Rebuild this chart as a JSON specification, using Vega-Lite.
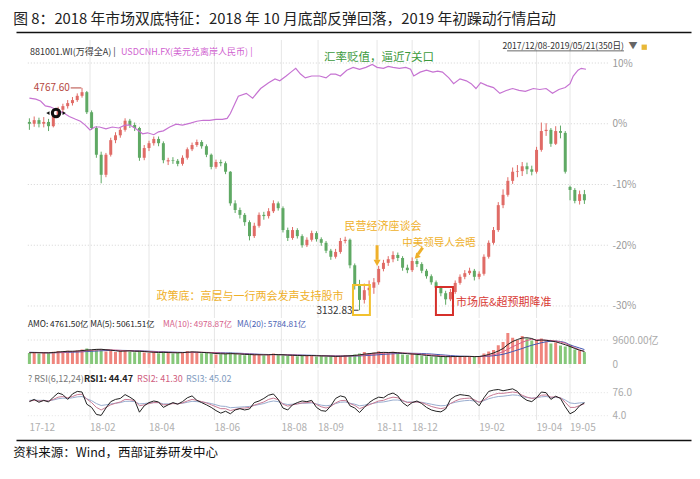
{
"$schema":"https://vega.github.io/schema/vega-lite/v6.json",
"background":"white",
"padding":{"left":13,"top":12,"right":5,"bottom":5},
"title":{"text":"图 8：2018 年市场双底特征：2018 年 10 月底部反弹回落，2019 年初躁动行情启动","anchor":"start","fontSize":14.8,"fontWeight":"normal","color":"#222","offset":5,"font":"Noto Sans CJK SC"},
"config":{"font":"Noto Sans CJK SC","view":{"stroke":null},"concat":{"spacing":0},"scale":{"continuousPadding":0},"axis":{"labelFont":"Noto Sans CJK SC"}},
"spacing":0,
"datasets":{
"g":[{"p":10},{"p":0},{"p":-10},{"p":-20},{"p":-30}],
"rg":[{"p":76},{"p":4}],
"mo":[{"i":0,"t":"17-12"},{"i":38,"t":"18-02"},{"i":75,"t":"18-04"},{"i":116,"t":"18-06"},{"i":158,"t":"18-08"},{"i":181,"t":"18-09"},{"i":218,"t":"18-11"},{"i":240,"t":"18-12"},{"i":282,"t":"19-02"},{"i":318,"t":"19-04"},{"i":339,"t":"19-05"}],
"fx":[{"i":0,"f":6.63},{"i":4,"f":6.62},{"i":7,"f":6.6},{"i":10,"f":6.55},{"i":13,"f":6.54},{"i":17,"f":6.51},{"i":21,"f":6.48},{"i":25,"f":6.44},{"i":29,"f":6.41},{"i":32,"f":6.39},{"i":35,"f":6.35},{"i":38,"f":6.3},{"i":41,"f":6.33},{"i":44,"f":6.33},{"i":48,"f":6.31},{"i":52,"f":6.33},{"i":56,"f":6.32},{"i":60,"f":6.35},{"i":63,"f":6.35},{"i":67,"f":6.31},{"i":71,"f":6.26},{"i":74,"f":6.27},{"i":78,"f":6.25},{"i":81,"f":6.28},{"i":84,"f":6.29},{"i":88,"f":6.33},{"i":92,"f":6.36},{"i":96,"f":6.35},{"i":101,"f":6.37},{"i":105,"f":6.39},{"i":109,"f":6.4},{"i":113,"f":6.4},{"i":117,"f":6.41},{"i":121,"f":6.41},{"i":124,"f":6.42},{"i":126,"f":6.47},{"i":131,"f":6.65},{"i":136,"f":6.68},{"i":140,"f":6.63},{"i":145,"f":6.73},{"i":150,"f":6.79},{"i":154,"f":6.83},{"i":157,"f":6.81},{"i":161,"f":6.86},{"i":164,"f":6.9},{"i":167,"f":6.94},{"i":170,"f":6.88},{"i":173,"f":6.84},{"i":177,"f":6.86},{"i":182,"f":6.86},{"i":186,"f":6.84},{"i":189,"f":6.88},{"i":192,"f":6.88},{"i":195,"f":6.86},{"i":199,"f":6.92},{"i":203,"f":6.95},{"i":207,"f":6.93},{"i":211,"f":6.95},{"i":215,"f":6.98},{"i":218,"f":6.95},{"i":222,"f":6.94},{"i":225,"f":6.96},{"i":228,"f":6.95},{"i":232,"f":6.94},{"i":236,"f":6.95},{"i":239,"f":6.93},{"i":241,"f":6.86},{"i":245,"f":6.9},{"i":249,"f":6.92},{"i":253,"f":6.9},{"i":256,"f":6.91},{"i":259,"f":6.9},{"i":263,"f":6.84},{"i":266,"f":6.78},{"i":270,"f":6.83},{"i":274,"f":6.81},{"i":277,"f":6.78},{"i":280,"f":6.73},{"i":283,"f":6.79},{"i":287,"f":6.76},{"i":291,"f":6.74},{"i":295,"f":6.68},{"i":299,"f":6.71},{"i":303,"f":6.73},{"i":307,"f":6.71},{"i":311,"f":6.7},{"i":316,"f":6.73},{"i":320,"f":6.72},{"i":324,"f":6.73},{"i":328,"f":6.68},{"i":332,"f":6.72},{"i":336,"f":6.74},{"i":339,"f":6.78},{"i":341,"f":6.86},{"i":344,"f":6.92},{"i":346,"f":6.94},{"i":349,"f":6.93}],
"k":[
{"i":0,"o":0.3,"h":0.9,"l":-1.0,"c":0.0,"v":4400,"m5":4500,"m10":4600,"m20":4700,"r1":48,"r2":50,"r3":52},
{"i":3,"o":0.0,"h":1.2,"l":-0.5,"c":0.6,"v":4700,"m5":4550,"m10":4580,"m20":4650,"r1":55,"r2":52,"r3":53},
{"i":6,"o":0.6,"h":1.0,"l":-0.6,"c":0.0,"v":4200,"m5":4500,"m10":4550,"m20":4600,"r1":46,"r2":50,"r3":52},
{"i":9,"o":0.0,"h":1.1,"l":-0.6,"c":0.3,"v":4500,"m5":4480,"m10":4520,"m20":4560,"r1":52,"r2":51,"r3":52},
{"i":12,"o":0.3,"h":0.8,"l":-1.2,"c":-0.4,"v":4300,"m5":4450,"m10":4500,"m20":4520,"r1":47,"r2":50,"r3":51},
{"i":15,"o":-0.4,"h":1.7,"l":-0.6,"c":1.4,"v":4900,"m5":4600,"m10":4520,"m20":4510,"r1":62,"r2":55,"r3":53},
{"i":18,"o":1.4,"h":2.8,"l":1.0,"c":2.3,"v":5200,"m5":4800,"m10":4600,"m20":4530,"r1":75,"r2":62,"r3":57},
{"i":21,"o":2.3,"h":3.3,"l":1.9,"c":2.9,"v":5000,"m5":4950,"m10":4700,"m20":4580,"r1":70,"r2":64,"r3":59},
{"i":24,"o":2.9,"h":3.9,"l":2.5,"c":3.4,"v":5300,"m5":5100,"m10":4850,"m20":4650,"r1":55,"r2":60,"r3":58},
{"i":27,"o":3.4,"h":4.4,"l":3.0,"c":3.9,"v":4900,"m5":5100,"m10":4950,"m20":4720,"r1":72,"r2":64,"r3":60},
{"i":30,"o":3.9,"h":5.0,"l":3.6,"c":4.6,"v":5400,"m5":5200,"m10":5050,"m20":4800,"r1":80,"r2":70,"r3":63},
{"i":33,"o":4.6,"h":5.9,"l":4.3,"c":5.2,"v":5800,"m5":5350,"m10":5150,"m20":4900,"r1":78,"r2":71,"r3":64},
{"i":36,"o":5.2,"h":5.4,"l":1.6,"c":1.9,"v":6200,"m5":5600,"m10":5300,"m20":5000,"r1":40,"r2":56,"r3":57},
{"i":39,"o":1.9,"h":2.2,"l":-1.0,"c":-0.7,"v":5600,"m5":5700,"m10":5450,"m20":5100,"r1":30,"r2":45,"r3":51},
{"i":42,"o":-0.7,"h":-0.4,"l":-5.6,"c":-5.1,"v":6000,"m5":5850,"m10":5600,"m20":5200,"r1":8,"r2":30,"r3":42},
{"i":45,"o":-5.1,"h":-4.6,"l":-9.8,"c":-8.4,"v":5800,"m5":5900,"m10":5700,"m20":5300,"r1":5,"r2":22,"r3":36},
{"i":48,"o":-8.4,"h":-4.8,"l":-8.8,"c":-5.1,"v":5000,"m5":5700,"m10":5700,"m20":5380,"r1":28,"r2":30,"r3":38},
{"i":51,"o":-5.1,"h":-2.3,"l":-5.4,"c":-2.7,"v":5400,"m5":5550,"m10":5650,"m20":5420,"r1":48,"r2":38,"r3":41},
{"i":54,"o":-2.7,"h":-1.4,"l":-3.2,"c":-1.9,"v":4800,"m5":5300,"m10":5550,"m20":5450,"r1":55,"r2":43,"r3":43},
{"i":57,"o":-1.9,"h":-0.6,"l":-2.3,"c":-1.0,"v":5200,"m5":5100,"m10":5450,"m20":5450,"r1":58,"r2":47,"r3":45},
{"i":60,"o":-1.0,"h":0.9,"l":-1.3,"c":0.5,"v":5600,"m5":5200,"m10":5350,"m20":5420,"r1":70,"r2":55,"r3":49},
{"i":63,"o":0.5,"h":0.8,"l":-0.7,"c":-0.2,"v":5000,"m5":5250,"m10":5300,"m20":5380,"r1":62,"r2":54,"r3":49},
{"i":66,"o":-0.2,"h":0.2,"l":-1.2,"c":-0.7,"v":4700,"m5":5100,"m10":5200,"m20":5320,"r1":52,"r2":51,"r3":48},
{"i":69,"o":-0.7,"h":-0.5,"l":-6.1,"c":-5.6,"v":5300,"m5":5100,"m10":5150,"m20":5250,"r1":15,"r2":35,"r3":41},
{"i":72,"o":-5.6,"h":-3.5,"l":-6.0,"c":-4.0,"v":4600,"m5":5000,"m10":5100,"m20":5200,"r1":35,"r2":38,"r3":42},
{"i":75,"o":-4.0,"h":-2.8,"l":-4.5,"c":-3.2,"v":4400,"m5":4800,"m10":5000,"m20":5120,"r1":45,"r2":42,"r3":44},
{"i":78,"o":-3.2,"h":-2.1,"l":-3.6,"c":-2.5,"v":4800,"m5":4700,"m10":4900,"m20":5050,"r1":50,"r2":45,"r3":45},
{"i":81,"o":-2.5,"h":-2.1,"l":-3.7,"c":-3.2,"v":4300,"m5":4600,"m10":4800,"m20":4950,"r1":47,"r2":45,"r3":45},
{"i":84,"o":-3.2,"h":-2.9,"l":-6.5,"c":-6.0,"v":5000,"m5":4650,"m10":4750,"m20":4880,"r1":30,"r2":38,"r3":41},
{"i":87,"o":-6.2,"h":-5.6,"l":-6.8,"c":-6.0,"v":4500,"m5":4600,"m10":4700,"m20":4800,"r1":38,"r2":39,"r3":41},
{"i":90,"o":-6.0,"h":-5.5,"l":-6.6,"c":-6.1,"v":4200,"m5":4500,"m10":4650,"m20":4750,"r1":45,"r2":42,"r3":43},
{"i":93,"o":-6.1,"h":-5.8,"l":-7.0,"c":-6.6,"v":4600,"m5":4500,"m10":4600,"m20":4700,"r1":40,"r2":41,"r3":42},
{"i":96,"o":-6.6,"h":-5.2,"l":-6.9,"c":-5.6,"v":4800,"m5":4550,"m10":4580,"m20":4650,"r1":48,"r2":44,"r3":43},
{"i":99,"o":-5.6,"h":-3.9,"l":-5.9,"c":-4.2,"v":5200,"m5":4700,"m10":4600,"m20":4620,"r1":60,"r2":50,"r3":46},
{"i":102,"o":-4.2,"h":-3.1,"l":-4.5,"c":-3.5,"v":5000,"m5":4850,"m10":4650,"m20":4600,"r1":66,"r2":55,"r3":49},
{"i":105,"o":-3.5,"h":-2.6,"l":-3.8,"c":-3.0,"v":4500,"m5":4800,"m10":4700,"m20":4600,"r1":52,"r2":52,"r3":48},
{"i":108,"o":-3.0,"h":-2.7,"l":-4.1,"c":-3.7,"v":4300,"m5":4650,"m10":4700,"m20":4600,"r1":45,"r2":48,"r3":47},
{"i":111,"o":-3.7,"h":-3.4,"l":-5.5,"c":-5.1,"v":4600,"m5":4550,"m10":4650,"m20":4600,"r1":38,"r2":44,"r3":45},
{"i":114,"o":-5.1,"h":-4.9,"l":-7.5,"c":-7.1,"v":4200,"m5":4400,"m10":4600,"m20":4580,"r1":30,"r2":38,"r3":42},
{"i":117,"o":-7.1,"h":-5.9,"l":-7.4,"c":-6.3,"v":3800,"m5":4200,"m10":4500,"m20":4550,"r1":20,"r2":32,"r3":38},
{"i":120,"o":-6.3,"h":-5.9,"l":-7.0,"c":-6.5,"v":3900,"m5":4100,"m10":4350,"m20":4500,"r1":12,"r2":26,"r3":34},
{"i":123,"o":-6.5,"h":-6.2,"l":-8.3,"c":-7.9,"v":4200,"m5":4050,"m10":4250,"m20":4450,"r1":18,"r2":26,"r3":33},
{"i":126,"o":-7.9,"h":-7.8,"l":-13.5,"c":-13.1,"v":4600,"m5":4150,"m10":4200,"m20":4400,"r1":10,"r2":20,"r3":29},
{"i":129,"o":-13.1,"h":-12.6,"l":-14.7,"c":-14.2,"v":4000,"m5":4100,"m10":4150,"m20":4350,"r1":22,"r2":24,"r3":30},
{"i":132,"o":-14.2,"h":-13.8,"l":-15.6,"c":-15.0,"v":3700,"m5":4000,"m10":4100,"m20":4300,"r1":26,"r2":27,"r3":31},
{"i":135,"o":-15.0,"h":-14.7,"l":-16.8,"c":-16.2,"v":3500,"m5":3850,"m10":4000,"m20":4200,"r1":22,"r2":28,"r3":32},
{"i":138,"o":-16.2,"h":-15.9,"l":-19.2,"c":-18.5,"v":3900,"m5":3800,"m10":3950,"m20":4100,"r1":25,"r2":30,"r3":33},
{"i":141,"o":-18.5,"h":-16.3,"l":-18.8,"c":-16.8,"v":3600,"m5":3700,"m10":3850,"m20":4000,"r1":45,"r2":37,"r3":36},
{"i":144,"o":-16.8,"h":-14.6,"l":-17.1,"c":-15.0,"v":3800,"m5":3700,"m10":3800,"m20":3900,"r1":50,"r2":42,"r3":39},
{"i":147,"o":-15.0,"h":-14.5,"l":-15.8,"c":-15.2,"v":3400,"m5":3650,"m10":3750,"m20":3850,"r1":58,"r2":47,"r3":42},
{"i":150,"o":-15.2,"h":-13.9,"l":-15.6,"c":-14.4,"v":3900,"m5":3700,"m10":3720,"m20":3800,"r1":68,"r2":55,"r3":47},
{"i":153,"o":-14.4,"h":-12.6,"l":-14.7,"c":-13.1,"v":4200,"m5":3800,"m10":3750,"m20":3780,"r1":72,"r2":59,"r3":50},
{"i":156,"o":-13.1,"h":-12.8,"l":-14.3,"c":-13.9,"v":3600,"m5":3750,"m10":3730,"m20":3760,"r1":55,"r2":54,"r3":48},
{"i":159,"o":-13.9,"h":-13.6,"l":-17.9,"c":-17.5,"v":3500,"m5":3700,"m10":3700,"m20":3740,"r1":28,"r2":40,"r3":42},
{"i":162,"o":-17.5,"h":-17.1,"l":-19.3,"c":-18.8,"v":3200,"m5":3550,"m10":3650,"m20":3700,"r1":22,"r2":34,"r3":39},
{"i":165,"o":-18.8,"h":-17.0,"l":-19.1,"c":-17.5,"v":3600,"m5":3500,"m10":3600,"m20":3650,"r1":38,"r2":38,"r3":40},
{"i":168,"o":-17.5,"h":-17.2,"l":-18.9,"c":-18.5,"v":3100,"m5":3400,"m10":3550,"m20":3620,"r1":45,"r2":41,"r3":41},
{"i":171,"o":-18.5,"h":-18.2,"l":-20.4,"c":-20.0,"v":3300,"m5":3350,"m10":3450,"m20":3580,"r1":50,"r2":44,"r3":43},
{"i":174,"o":-20.0,"h":-18.7,"l":-20.3,"c":-19.1,"v":3500,"m5":3350,"m10":3400,"m20":3520,"r1":48,"r2":45,"r3":43},
{"i":177,"o":-19.1,"h":-17.6,"l":-19.4,"c":-18.0,"v":3400,"m5":3380,"m10":3380,"m20":3480,"r1":52,"r2":47,"r3":44},
{"i":180,"o":-18.0,"h":-17.7,"l":-19.4,"c":-19.0,"v":3000,"m5":3300,"m10":3350,"m20":3430,"r1":30,"r2":39,"r3":41},
{"i":183,"o":-19.0,"h":-18.7,"l":-20.1,"c":-19.6,"v":3200,"m5":3250,"m10":3300,"m20":3380,"r1":20,"r2":32,"r3":37},
{"i":186,"o":-19.6,"h":-19.3,"l":-21.3,"c":-20.9,"v":2900,"m5":3200,"m10":3250,"m20":3330,"r1":18,"r2":28,"r3":35},
{"i":189,"o":-20.9,"h":-20.6,"l":-22.4,"c":-21.9,"v":3100,"m5":3150,"m10":3220,"m20":3280,"r1":35,"r2":33,"r3":37},
{"i":192,"o":-21.9,"h":-20.6,"l":-22.2,"c":-21.1,"v":3000,"m5":3050,"m10":3180,"m20":3240,"r1":58,"r2":44,"r3":42},
{"i":195,"o":-21.1,"h":-18.8,"l":-21.4,"c":-19.3,"v":3300,"m5":3100,"m10":3150,"m20":3200,"r1":66,"r2":51,"r3":46},
{"i":198,"o":-19.3,"h":-18.6,"l":-19.7,"c":-19.1,"v":3600,"m5":3200,"m10":3170,"m20":3180,"r1":62,"r2":52,"r3":47},
{"i":201,"o":-19.1,"h":-18.9,"l":-23.8,"c":-23.3,"v":3400,"m5":3300,"m10":3200,"m20":3180,"r1":35,"r2":42,"r3":43},
{"i":204,"o":-23.3,"h":-23.0,"l":-27.3,"c":-26.5,"v":3800,"m5":3450,"m10":3300,"m20":3200,"r1":28,"r2":36,"r3":40},
{"i":207,"o":-26.5,"h":-25.7,"l":-30.7,"c":-29.0,"v":4200,"m5":3650,"m10":3400,"m20":3250,"r1":14,"r2":26,"r3":35},
{"i":210,"o":-29.0,"h":-26.3,"l":-29.6,"c":-27.4,"v":4800,"m5":3950,"m10":3600,"m20":3350,"r1":30,"r2":32,"r3":37},
{"i":213,"o":-27.4,"h":-25.8,"l":-28.3,"c":-27.0,"v":4300,"m5":4150,"m10":3800,"m20":3450,"r1":45,"r2":38,"r3":40},
{"i":216,"o":-27.0,"h":-25.4,"l":-28.0,"c":-26.1,"v":4600,"m5":4350,"m10":4000,"m20":3580,"r1":55,"r2":44,"r3":43},
{"i":219,"o":-26.1,"h":-23.4,"l":-26.5,"c":-23.9,"v":5100,"m5":4550,"m10":4200,"m20":3700,"r1":62,"r2":50,"r3":46},
{"i":222,"o":-23.9,"h":-22.4,"l":-24.3,"c":-22.9,"v":4700,"m5":4650,"m10":4350,"m20":3850,"r1":60,"r2":52,"r3":47},
{"i":225,"o":-22.9,"h":-21.8,"l":-23.4,"c":-22.3,"v":4500,"m5":4600,"m10":4450,"m20":3980,"r1":70,"r2":58,"r3":50},
{"i":228,"o":-22.3,"h":-21.0,"l":-22.8,"c":-21.6,"v":4900,"m5":4650,"m10":4500,"m20":4100,"r1":75,"r2":62,"r3":53},
{"i":231,"o":-21.6,"h":-21.2,"l":-22.6,"c":-22.1,"v":4200,"m5":4500,"m10":4500,"m20":4200,"r1":66,"r2":60,"r3":53},
{"i":234,"o":-22.1,"h":-21.8,"l":-24.2,"c":-23.7,"v":3800,"m5":4300,"m10":4450,"m20":4250,"r1":45,"r2":52,"r3":50},
{"i":237,"o":-23.7,"h":-23.2,"l":-24.6,"c":-24.1,"v":3600,"m5":4100,"m10":4350,"m20":4280,"r1":34,"r2":45,"r3":47},
{"i":240,"o":-24.1,"h":-22.0,"l":-24.4,"c":-22.6,"v":4100,"m5":4000,"m10":4200,"m20":4280,"r1":45,"r2":46,"r3":47},
{"i":243,"o":-22.6,"h":-22.2,"l":-23.6,"c":-23.1,"v":3700,"m5":3850,"m10":4050,"m20":4250,"r1":50,"r2":47,"r3":47},
{"i":246,"o":-23.1,"h":-22.8,"l":-24.6,"c":-24.2,"v":3300,"m5":3650,"m10":3900,"m20":4200,"r1":42,"r2":45,"r3":46},
{"i":249,"o":-24.2,"h":-23.9,"l":-25.5,"c":-25.1,"v":3100,"m5":3450,"m10":3750,"m20":4100,"r1":30,"r2":39,"r3":43},
{"i":252,"o":-25.1,"h":-24.8,"l":-26.5,"c":-26.1,"v":3000,"m5":3300,"m10":3600,"m20":4000,"r1":22,"r2":33,"r3":40},
{"i":255,"o":-26.1,"h":-25.8,"l":-27.4,"c":-27.0,"v":2900,"m5":3150,"m10":3450,"m20":3850,"r1":18,"r2":29,"r3":37},
{"i":258,"o":-27.0,"h":-26.7,"l":-28.4,"c":-27.9,"v":2800,"m5":3000,"m10":3300,"m20":3700,"r1":16,"r2":26,"r3":35},
{"i":261,"o":-27.9,"h":-27.5,"l":-29.8,"c":-28.9,"v":3100,"m5":2950,"m10":3150,"m20":3550,"r1":25,"r2":29,"r3":36},
{"i":264,"o":-28.9,"h":-27.2,"l":-29.2,"c":-27.7,"v":3000,"m5":2950,"m10":3050,"m20":3400,"r1":55,"r2":42,"r3":42},
{"i":267,"o":-27.7,"h":-25.8,"l":-28.0,"c":-26.2,"v":3200,"m5":3000,"m10":3000,"m20":3250,"r1":65,"r2":50,"r3":46},
{"i":270,"o":-26.2,"h":-24.8,"l":-26.5,"c":-25.2,"v":2900,"m5":3000,"m10":3000,"m20":3150,"r1":70,"r2":56,"r3":49},
{"i":273,"o":-25.2,"h":-24.1,"l":-25.6,"c":-24.6,"v":3100,"m5":3050,"m10":3000,"m20":3080,"r1":68,"r2":58,"r3":51},
{"i":276,"o":-24.6,"h":-23.7,"l":-24.9,"c":-24.2,"v":3000,"m5":3050,"m10":3000,"m20":3030,"r1":66,"r2":59,"r3":52},
{"i":279,"o":-24.2,"h":-23.9,"l":-25.8,"c":-25.2,"v":2800,"m5":2950,"m10":3000,"m20":3000,"r1":50,"r2":54,"r3":50},
{"i":282,"o":-25.2,"h":-24.3,"l":-25.6,"c":-24.7,"v":3200,"m5":3000,"m10":3000,"m20":3000,"r1":35,"r2":46,"r3":47},
{"i":285,"o":-24.7,"h":-21.5,"l":-25.0,"c":-21.9,"v":4200,"m5":3300,"m10":3100,"m20":3050,"r1":60,"r2":53,"r3":51},
{"i":288,"o":-21.9,"h":-19.2,"l":-22.2,"c":-19.6,"v":5000,"m5":3800,"m10":3350,"m20":3150,"r1":80,"r2":64,"r3":57},
{"i":291,"o":-19.6,"h":-17.0,"l":-19.9,"c":-17.5,"v":5600,"m5":4400,"m10":3700,"m20":3300,"r1":84,"r2":70,"r3":61},
{"i":294,"o":-17.5,"h":-12.9,"l":-17.8,"c":-13.4,"v":7500,"m5":5200,"m10":4200,"m20":3550,"r1":86,"r2":74,"r3":64},
{"i":297,"o":-13.4,"h":-10.8,"l":-13.9,"c":-11.7,"v":8800,"m5":6200,"m10":4900,"m20":3900,"r1":82,"r2":74,"r3":65},
{"i":300,"o":-11.7,"h":-8.8,"l":-12.0,"c":-9.4,"v":12400,"m5":7800,"m10":5900,"m20":4400,"r1":85,"r2":76,"r3":67},
{"i":303,"o":-9.4,"h":-7.2,"l":-9.9,"c":-7.9,"v":10500,"m5":9000,"m10":6900,"m20":5000,"r1":88,"r2":78,"r3":69},
{"i":306,"o":-7.9,"h":-6.8,"l":-8.8,"c":-7.8,"v":9600,"m5":9800,"m10":7800,"m20":5600,"r1":80,"r2":76,"r3":68},
{"i":309,"o":-7.8,"h":-6.3,"l":-8.6,"c":-7.0,"v":11200,"m5":10400,"m10":8700,"m20":6200,"r1":62,"r2":68,"r3":64},
{"i":312,"o":-7.0,"h":-6.4,"l":-8.3,"c":-7.5,"v":10200,"m5":10500,"m10":9400,"m20":6900,"r1":52,"r2":62,"r3":61},
{"i":315,"o":-7.5,"h":-6.9,"l":-8.5,"c":-7.9,"v":9400,"m5":10200,"m10":9900,"m20":7500,"r1":48,"r2":58,"r3":59},
{"i":318,"o":-7.9,"h":-3.8,"l":-8.2,"c":-4.3,"v":9600,"m5":9400,"m10":9700,"m20":8000,"r1":60,"r2":60,"r3":60},
{"i":321,"o":-4.3,"h":0.2,"l":-4.6,"c":-1.2,"v":10200,"m5":9600,"m10":9600,"m20":8500,"r1":78,"r2":68,"r3":63},
{"i":324,"o":-1.2,"h":0.1,"l":-2.0,"c":-1.0,"v":9000,"m5":9500,"m10":9500,"m20":8900,"r1":76,"r2":69,"r3":64},
{"i":327,"o":-1.0,"h":-0.7,"l":-3.8,"c":-3.3,"v":8200,"m5":9200,"m10":9400,"m20":9100,"r1":55,"r2":62,"r3":61},
{"i":330,"o":-3.3,"h":-0.4,"l":-3.5,"c":-1.2,"v":8600,"m5":8900,"m10":9200,"m20":9200,"r1":65,"r2":63,"r3":61},
{"i":333,"o":-1.2,"h":-0.3,"l":-2.4,"c":-1.5,"v":7400,"m5":8300,"m10":8800,"m20":9000,"r1":58,"r2":60,"r3":60},
{"i":336,"o":-1.5,"h":-1.2,"l":-8.2,"c":-7.9,"v":7000,"m5":7700,"m10":8300,"m20":8600,"r1":32,"r2":46,"r3":53},
{"i":339,"o":-10.4,"h":-10.2,"l":-12.6,"c":-10.9,"v":7800,"m5":7000,"m10":7300,"m20":7600,"r1":10,"r2":30,"r3":44},
{"i":342,"o":-10.9,"h":-10.6,"l":-13.1,"c":-12.7,"v":5800,"m5":6200,"m10":6500,"m20":7000,"r1":18,"r2":30,"r3":42},
{"i":345,"o":-12.7,"h":-11.0,"l":-13.3,"c":-11.6,"v":5400,"m5":5500,"m10":5700,"m20":6400,"r1":35,"r2":36,"r3":44},
{"i":348,"o":-11.6,"h":-10.9,"l":-13.2,"c":-12.6,"v":4761.5,"m5":5061.5,"m10":4978.9,"m20":5784.8,"r1":44.5,"r2":41.3,"r3":45.0}
]},
"vconcat":[
{"width":675,"height":7,"data":{"values":[{"a":0}]},"mark":{"type":"point","opacity":0},
 "encoding":{"x":{"field":"a","type":"quantitative","scale":{"domain":[0,1]},"axis":{"orient":"top","domain":true,"domainColor":"#111","domainWidth":1.5,"ticks":false,"labels":false,"grid":false,"title":null}}}},
{"width":592,"height":278,"data":{"values":[{}]},"resolve":{"scale":{"y":"independent"}},
 "layer":[
  {"data":{"name":"mo"},"transform":[{"filter":"datum.i > 0"}],"mark":{"type":"rule","stroke":"#e6e6e6","strokeWidth":1},
   "encoding":{"x":{"field":"i","type":"quantitative","scale":{"domain":[-8.4,362.8],"nice":false,"zero":false,"padding":0},"axis":null}}},
  {"data":{"name":"g"},"mark":{"type":"rule","stroke":"#d4d4d4","strokeDash":[1,2],"strokeWidth":1},
   "encoding":{"x":{"datum":-1,"type":"quantitative","scale":{"domain":[-8.4,362.8],"nice":false,"zero":false,"padding":0},"axis":null},"x2":{"datum":362.8},
   "y":{"field":"p","type":"quantitative","scale":{"domain":[-31.98,13.79],"nice":false,"zero":false},"axis":{"orient":"right","values":[10,0,-10,-20,-30],"labelExpr":"datum.value + '%'","labelColor":"#9a9a9a","labelFontSize":10,"ticks":false,"domain":false,"grid":false,"title":null,"labelPadding":4}}}},
  {"data":{"name":"k"},"mark":{"type":"rule","strokeWidth":1},
   "encoding":{"x":{"field":"i","type":"quantitative","scale":{"domain":[-8.4,362.8],"nice":false,"zero":false,"padding":0},"axis":null},
   "y":{"field":"l","type":"quantitative","scale":{"domain":[-31.98,13.79],"nice":false,"zero":false},"axis":null},"y2":{"field":"h"},
   "color":{"condition":{"test":"datum.c >= datum.o","value":"#e06b66"},"value":"#5fa964"}}},
  {"data":{"name":"k"},"mark":{"type":"bar","size":3},
   "encoding":{"x":{"field":"i","type":"quantitative","scale":{"domain":[-8.4,362.8],"nice":false,"zero":false,"padding":0},"axis":null},
   "y":{"field":"o","type":"quantitative","scale":{"domain":[-31.98,13.79],"nice":false,"zero":false},"axis":null},"y2":{"field":"c"},
   "color":{"condition":{"test":"datum.c >= datum.o","value":"#e06b66"},"value":"#5fa964"}}},
  {"data":{"name":"fx"},"mark":{"type":"line","color":"#c673d2","strokeWidth":1.2},
   "encoding":{"x":{"field":"i","type":"quantitative","scale":{"domain":[-8.4,362.8],"nice":false,"zero":false,"padding":0},"axis":null},
   "y":{"field":"f","type":"quantitative","scale":{"domain":[4.346,7.234],"nice":false,"zero":false},"axis":null}}},
  {"mark":{"type":"text","text":"881001.WI(万得全A) |","color":"#333","fontSize":9,"align":"left"},
   "encoding":{"x":{"datum":0.4,"type":"quantitative","scale":{"domain":[-8.4,362.8],"nice":false,"zero":false,"padding":0},"axis":null},"y":{"datum":11.8,"type":"quantitative","scale":{"domain":[-31.98,13.79],"nice":false,"zero":false},"axis":null}}},
  {"mark":{"type":"text","text":"USDCNH.FX(美元兑离岸人民币) |","color":"#d05fd0","fontSize":9,"align":"left"},
   "encoding":{"x":{"datum":57.4,"type":"quantitative","scale":{"domain":[-8.4,362.8],"nice":false,"zero":false,"padding":0},"axis":null},"y":{"datum":11.8,"type":"quantitative","scale":{"domain":[-31.98,13.79],"nice":false,"zero":false},"axis":null}}},
  {"mark":{"type":"text","text":"2017/12/08-2019/05/21(350日)","color":"#333","fontSize":8.6,"align":"right"},
   "encoding":{"x":{"datum":372.8,"type":"quantitative","scale":{"domain":[-8.4,362.8],"nice":false,"zero":false,"padding":0},"axis":null},"y":{"datum":12.8,"type":"quantitative","scale":{"domain":[-31.98,13.79],"nice":false,"zero":false},"axis":null}}},
  {"mark":{"type":"rule","color":"#444","strokeWidth":0.8},
   "encoding":{"x":{"datum":299.5,"type":"quantitative","scale":{"domain":[-8.4,362.8],"nice":false,"zero":false,"padding":0},"axis":null},"x2":{"datum":372.8},"y":{"datum":12.0,"type":"quantitative","scale":{"domain":[-31.98,13.79],"nice":false,"zero":false},"axis":null}}},
  {"mark":{"type":"text","text":"▼","color":"#666","fontSize":9},
   "encoding":{"x":{"datum":378.4,"type":"quantitative","scale":{"domain":[-8.4,362.8],"nice":false,"zero":false,"padding":0},"axis":null},"y":{"datum":12.8,"type":"quantitative","scale":{"domain":[-31.98,13.79],"nice":false,"zero":false},"axis":null}}},
  {"mark":{"type":"point","shape":"square","filled":true,"color":"#e8b838","size":28,"opacity":1},
   "encoding":{"x":{"datum":385.5,"type":"quantitative","scale":{"domain":[-8.4,362.8],"nice":false,"zero":false,"padding":0},"axis":null},"y":{"datum":12.6,"type":"quantitative","scale":{"domain":[-31.98,13.79],"nice":false,"zero":false},"axis":null}}},
  {"mark":{"type":"text","text":"汇率贬值，逼近7关口","color":"#3c9a3c","fontSize":11.5},
   "encoding":{"x":{"datum":219.2,"type":"quantitative","scale":{"domain":[-8.4,362.8],"nice":false,"zero":false,"padding":0},"axis":null},"y":{"datum":10.8,"type":"quantitative","scale":{"domain":[-31.98,13.79],"nice":false,"zero":false},"axis":null}}},
  {"mark":{"type":"text","text":"4767.60","color":"#b5483f","fontSize":10,"align":"right"},
   "encoding":{"x":{"datum":25.4,"type":"quantitative","scale":{"domain":[-8.4,362.8],"nice":false,"zero":false,"padding":0},"axis":null},"y":{"datum":5.95,"type":"quantitative","scale":{"domain":[-31.98,13.79],"nice":false,"zero":false},"axis":null}}},
  {"mark":{"type":"rule","color":"#b5483f","strokeWidth":1},
   "encoding":{"x":{"datum":25.9,"type":"quantitative","scale":{"domain":[-8.4,362.8],"nice":false,"zero":false,"padding":0},"axis":null},"x2":{"datum":32.6},"y":{"datum":5.9,"type":"quantitative","scale":{"domain":[-31.98,13.79],"nice":false,"zero":false},"axis":null}}},
  {"mark":{"type":"point","shape":"circle","filled":false,"stroke":"#111","strokeWidth":3,"size":55,"opacity":1},
   "encoding":{"x":{"datum":16.7,"type":"quantitative","scale":{"domain":[-8.4,362.8],"nice":false,"zero":false,"padding":0},"axis":null},"y":{"datum":1.77,"type":"quantitative","scale":{"domain":[-31.98,13.79],"nice":false,"zero":false},"axis":null}}},
  {"mark":{"type":"point","shape":"triangle-left","filled":true,"color":"#111","size":14,"opacity":1},
   "encoding":{"x":{"datum":11.6,"type":"quantitative","scale":{"domain":[-8.4,362.8],"nice":false,"zero":false,"padding":0},"axis":null},"y":{"datum":1.77,"type":"quantitative","scale":{"domain":[-31.98,13.79],"nice":false,"zero":false},"axis":null}}},
  {"mark":{"type":"point","shape":"triangle-right","filled":true,"color":"#111","size":14,"opacity":1},
   "encoding":{"x":{"datum":21.8,"type":"quantitative","scale":{"domain":[-8.4,362.8],"nice":false,"zero":false,"padding":0},"axis":null},"y":{"datum":1.77,"type":"quantitative","scale":{"domain":[-31.98,13.79],"nice":false,"zero":false},"axis":null}}},
  {"mark":{"type":"text","text":"民营经济座谈会","color":"#efb02a","fontSize":11},
   "encoding":{"x":{"datum":221.7,"type":"quantitative","scale":{"domain":[-8.4,362.8],"nice":false,"zero":false,"padding":0},"axis":null},"y":{"datum":-17.0,"type":"quantitative","scale":{"domain":[-31.98,13.79],"nice":false,"zero":false},"axis":null}}},
  {"mark":{"type":"rule","color":"#efb02a","strokeWidth":3},
   "encoding":{"x":{"datum":218.0,"type":"quantitative","scale":{"domain":[-8.4,362.8],"nice":false,"zero":false,"padding":0},"axis":null},"y":{"datum":-20.0,"type":"quantitative","scale":{"domain":[-31.98,13.79],"nice":false,"zero":false},"axis":null},"y2":{"datum":-22.4}}},
  {"mark":{"type":"point","shape":"triangle-down","filled":true,"color":"#efb02a","size":50,"opacity":1},
   "encoding":{"x":{"datum":218.0,"type":"quantitative","scale":{"domain":[-8.4,362.8],"nice":false,"zero":false,"padding":0},"axis":null},"y":{"datum":-22.9,"type":"quantitative","scale":{"domain":[-31.98,13.79],"nice":false,"zero":false},"axis":null}}},
  {"mark":{"type":"text","text":"中美领导人会晤","color":"#efb02a","fontSize":10.5},
   "encoding":{"x":{"datum":256.8,"type":"quantitative","scale":{"domain":[-8.4,362.8],"nice":false,"zero":false,"padding":0},"axis":null},"y":{"datum":-19.6,"type":"quantitative","scale":{"domain":[-31.98,13.79],"nice":false,"zero":false},"axis":null}}},
  {"mark":{"type":"rule","color":"#efb02a","strokeWidth":3},
   "encoding":{"x":{"datum":246.6,"type":"quantitative","scale":{"domain":[-8.4,362.8],"nice":false,"zero":false,"padding":0},"axis":null},"x2":{"datum":243.6},"y":{"datum":-20.4,"type":"quantitative","scale":{"domain":[-31.98,13.79],"nice":false,"zero":false},"axis":null},"y2":{"datum":-21.5}}},
  {"mark":{"type":"point","shape":"triangle-down","filled":true,"color":"#efb02a","size":40,"angle":45,"opacity":1},
   "encoding":{"x":{"datum":242.8,"type":"quantitative","scale":{"domain":[-8.4,362.8],"nice":false,"zero":false,"padding":0},"axis":null},"y":{"datum":-21.9,"type":"quantitative","scale":{"domain":[-31.98,13.79],"nice":false,"zero":false},"axis":null}}},
  {"mark":{"type":"text","text":"政策底：高层与一行两会发声支持股市","color":"#efb02a","fontSize":11},
   "encoding":{"x":{"datum":138.3,"type":"quantitative","scale":{"domain":[-8.4,362.8],"nice":false,"zero":false,"padding":0},"axis":null},"y":{"datum":-28.5,"type":"quantitative","scale":{"domain":[-31.98,13.79],"nice":false,"zero":false},"axis":null}}},
  {"mark":{"type":"text","text":"3132.83","color":"#333","fontSize":10,"align":"right"},
   "encoding":{"x":{"datum":202.6,"type":"quantitative","scale":{"domain":[-8.4,362.8],"nice":false,"zero":false,"padding":0},"axis":null},"y":{"datum":-30.8,"type":"quantitative","scale":{"domain":[-31.98,13.79],"nice":false,"zero":false},"axis":null}}},
  {"mark":{"type":"rule","color":"#333","strokeWidth":1},
   "encoding":{"x":{"datum":202.9,"type":"quantitative","scale":{"domain":[-8.4,362.8],"nice":false,"zero":false,"padding":0},"axis":null},"x2":{"datum":206.4},"y":{"datum":-30.7,"type":"quantitative","scale":{"domain":[-31.98,13.79],"nice":false,"zero":false},"axis":null}}},
  {"mark":{"type":"rect","fill":"transparent","stroke":"#f2c12e","strokeWidth":2},
   "encoding":{"x":{"datum":202.9,"type":"quantitative","scale":{"domain":[-8.4,362.8],"nice":false,"zero":false,"padding":0},"axis":null},"x2":{"datum":213.5},"y":{"datum":-26.54,"type":"quantitative","scale":{"domain":[-31.98,13.79],"nice":false,"zero":false},"axis":null},"y2":{"datum":-31.48}}},
  {"mark":{"type":"rect","fill":"transparent","stroke":"#d6302b","strokeWidth":2},
   "encoding":{"x":{"datum":254.9,"type":"quantitative","scale":{"domain":[-8.4,362.8],"nice":false,"zero":false,"padding":0},"axis":null},"x2":{"datum":265.6},"y":{"datum":-26.87,"type":"quantitative","scale":{"domain":[-31.98,13.79],"nice":false,"zero":false},"axis":null},"y2":{"datum":-31.48}}},
  {"mark":{"type":"text","text":"市场底&超预期降准","color":"#d93a35","fontSize":11,"align":"left"},
   "encoding":{"x":{"datum":267.5,"type":"quantitative","scale":{"domain":[-8.4,362.8],"nice":false,"zero":false,"padding":0},"axis":null},"y":{"datum":-29.5,"type":"quantitative","scale":{"domain":[-31.98,13.79],"nice":false,"zero":false},"axis":null}}}
 ]},
{"width":592,"height":48,"data":{"values":[{}]},"resolve":{"scale":{"y":"independent"}},
 "layer":[
  {"data":{"name":"mo"},"transform":[{"filter":"datum.i > 0"}],"mark":{"type":"rule","stroke":"#e6e6e6","strokeWidth":1},
   "encoding":{"x":{"field":"i","type":"quantitative","scale":{"domain":[-8.4,362.8],"nice":false,"zero":false,"padding":0},"axis":null}}},
  {"mark":{"type":"rule","stroke":"#d4d4d4","strokeDash":[1,2],"strokeWidth":1},
   "encoding":{"x":{"datum":-1,"type":"quantitative","scale":{"domain":[-8.4,362.8],"nice":false,"zero":false,"padding":0},"axis":null},"x2":{"datum":362.8},
   "y":{"datum":9600,"type":"quantitative","scale":{"domain":[-1600,17600],"nice":false,"zero":false},"axis":{"orient":"right","values":[0,9600],"labelExpr":"datum.value == 0 ? '0' : format(datum.value, '.2f') + '亿'","labelColor":"#aaa","labelFontSize":10,"ticks":false,"domain":false,"grid":false,"title":null,"labelPadding":4}}}},
  {"data":{"name":"k"},"mark":{"type":"bar","size":3},
   "encoding":{"x":{"field":"i","type":"quantitative","scale":{"domain":[-8.4,362.8],"nice":false,"zero":false,"padding":0},"axis":null},
   "y":{"field":"v","type":"quantitative","scale":{"domain":[-1600,17600],"nice":false,"zero":false},"axis":null},"y2":{"datum":0},
   "color":{"condition":{"test":"datum.c >= datum.o","value":"#ef857d"},"value":"#86c77a"}}},
  {"data":{"name":"k"},"mark":{"type":"line","color":"#4257b2","strokeWidth":1},
   "encoding":{"x":{"field":"i","type":"quantitative","scale":{"domain":[-8.4,362.8],"nice":false,"zero":false,"padding":0},"axis":null},"y":{"field":"m20","type":"quantitative","scale":{"domain":[-1600,17600],"nice":false,"zero":false},"axis":null}}},
  {"data":{"name":"k"},"mark":{"type":"line","color":"#d6608a","strokeWidth":1},
   "encoding":{"x":{"field":"i","type":"quantitative","scale":{"domain":[-8.4,362.8],"nice":false,"zero":false,"padding":0},"axis":null},"y":{"field":"m10","type":"quantitative","scale":{"domain":[-1600,17600],"nice":false,"zero":false},"axis":null}}},
  {"data":{"name":"k"},"mark":{"type":"line","color":"#222","strokeWidth":1},
   "encoding":{"x":{"field":"i","type":"quantitative","scale":{"domain":[-8.4,362.8],"nice":false,"zero":false,"padding":0},"axis":null},"y":{"field":"m5","type":"quantitative","scale":{"domain":[-1600,17600],"nice":false,"zero":false},"axis":null}}},
  {"mark":{"type":"text","text":"AMO: 4761.50亿 MA(5): 5061.51亿","color":"#222","fontSize":8.3,"align":"left"},
   "encoding":{"x":{"datum":-0.9,"type":"quantitative","scale":{"domain":[-8.4,362.8],"nice":false,"zero":false,"padding":0},"axis":null},"y":{"datum":15600,"type":"quantitative","scale":{"domain":[-1600,17600],"nice":false,"zero":false},"axis":null}}},
  {"mark":{"type":"text","text":"MA(10): 4978.87亿","color":"#d6608a","fontSize":8.3,"align":"left"},
   "encoding":{"x":{"datum":83.8,"type":"quantitative","scale":{"domain":[-8.4,362.8],"nice":false,"zero":false,"padding":0},"axis":null},"y":{"datum":15600,"type":"quantitative","scale":{"domain":[-1600,17600],"nice":false,"zero":false},"axis":null}}},
  {"mark":{"type":"text","text":"MA(20): 5784.81亿","color":"#4b63b5","fontSize":8.3,"align":"left"},
   "encoding":{"x":{"datum":130.2,"type":"quantitative","scale":{"domain":[-8.4,362.8],"nice":false,"zero":false,"padding":0},"axis":null},"y":{"datum":15600,"type":"quantitative","scale":{"domain":[-1600,17600],"nice":false,"zero":false},"axis":null}}}
 ]},
{"width":592,"height":50,"data":{"values":[{}]},"resolve":{"scale":{"y":"independent"}},
 "layer":[
  {"data":{"name":"mo"},"transform":[{"filter":"datum.i > 0"}],"mark":{"type":"rule","stroke":"#e6e6e6","strokeWidth":1},
   "encoding":{"x":{"field":"i","type":"quantitative","scale":{"domain":[-8.4,362.8],"nice":false,"zero":false,"padding":0},"axis":null}}},
  {"data":{"name":"rg"},"mark":{"type":"rule","stroke":"#e2e2e2","strokeDash":[1,2],"strokeWidth":1},
   "encoding":{"x":{"datum":-1,"type":"quantitative","scale":{"domain":[-8.4,362.8],"nice":false,"zero":false,"padding":0},"axis":null},"x2":{"datum":362.8},
   "y":{"field":"p","type":"quantitative","scale":{"domain":[-9.4,146.9],"nice":false,"zero":false},"axis":{"orient":"right","values":[76,4],"format":".1f","labelColor":"#aaa","labelFontSize":10,"ticks":false,"domain":false,"grid":false,"title":null,"labelPadding":4}}}},
  {"data":{"name":"k"},"mark":{"type":"line","color":"#9aaed0","strokeWidth":1},
   "encoding":{"x":{"field":"i","type":"quantitative","scale":{"domain":[-8.4,362.8],"nice":false,"zero":false,"padding":0},"axis":null},
   "y":{"field":"r3","type":"quantitative","scale":{"domain":[-9.4,146.9],"nice":false,"zero":false},"axis":null}}},
  {"data":{"name":"k"},"mark":{"type":"line","color":"#c97b95","strokeWidth":1},
   "encoding":{"x":{"field":"i","type":"quantitative","scale":{"domain":[-8.4,362.8],"nice":false,"zero":false,"padding":0},"axis":null},"y":{"field":"r2","type":"quantitative","scale":{"domain":[-9.4,146.9],"nice":false,"zero":false},"axis":null}}},
  {"data":{"name":"k"},"mark":{"type":"line","color":"#222","strokeWidth":1},
   "encoding":{"x":{"field":"i","type":"quantitative","scale":{"domain":[-8.4,362.8],"nice":false,"zero":false,"padding":0},"axis":null},"y":{"field":"r1","type":"quantitative","scale":{"domain":[-9.4,146.9],"nice":false,"zero":false},"axis":null}}},
  {"data":{"name":"mo"},"mark":{"type":"text","color":"#b0b0b0","fontSize":10,"align":"left"},
   "encoding":{"x":{"field":"i","type":"quantitative","scale":{"domain":[-8.4,362.8],"nice":false,"zero":false,"padding":0},"axis":null},"y":{"datum":-34.4,"type":"quantitative","scale":{"domain":[-9.4,146.9],"nice":false,"zero":false},"axis":null},"text":{"field":"t"}}},
  {"mark":{"type":"text","text":"? RSI(6,12,24)","color":"#777","fontSize":9,"align":"left"},
   "encoding":{"x":{"datum":-0.9,"type":"quantitative","scale":{"domain":[-8.4,362.8],"nice":false,"zero":false,"padding":0},"axis":null},"y":{"datum":118.8,"type":"quantitative","scale":{"domain":[-9.4,146.9],"nice":false,"zero":false},"axis":null}}},
  {"mark":{"type":"text","text":"RSI1: 44.47","color":"#222","fontSize":9,"fontWeight":"bold","align":"left"},
   "encoding":{"x":{"datum":34.2,"type":"quantitative","scale":{"domain":[-8.4,362.8],"nice":false,"zero":false,"padding":0},"axis":null},"y":{"datum":118.8,"type":"quantitative","scale":{"domain":[-9.4,146.9],"nice":false,"zero":false},"axis":null}}},
  {"mark":{"type":"text","text":"RSI2: 41.30","color":"#d0607f","fontSize":9,"align":"left"},
   "encoding":{"x":{"datum":67.5,"type":"quantitative","scale":{"domain":[-8.4,362.8],"nice":false,"zero":false,"padding":0},"axis":null},"y":{"datum":118.8,"type":"quantitative","scale":{"domain":[-9.4,146.9],"nice":false,"zero":false},"axis":null}}},
  {"mark":{"type":"text","text":"RSI3: 45.02","color":"#7f9cc0","fontSize":9,"align":"left"},
   "encoding":{"x":{"datum":98.2,"type":"quantitative","scale":{"domain":[-8.4,362.8],"nice":false,"zero":false,"padding":0},"axis":null},"y":{"datum":118.8,"type":"quantitative","scale":{"domain":[-9.4,146.9],"nice":false,"zero":false},"axis":null}}}
 ]},
{"width":675,"height":7,"data":{"values":[{"a":0}]},"mark":{"type":"point","opacity":0},
 "encoding":{"x":{"field":"a","type":"quantitative","scale":{"domain":[0,1]},"axis":{"orient":"bottom","domain":true,"domainColor":"#111","domainWidth":1.5,"ticks":false,"labels":false,"grid":false,"title":null}}},
 "title":{"text":"资料来源：Wind，西部证券研发中心","orient":"bottom","anchor":"start","fontSize":12.5,"fontWeight":"normal","color":"#111","offset":7}}
]
}
